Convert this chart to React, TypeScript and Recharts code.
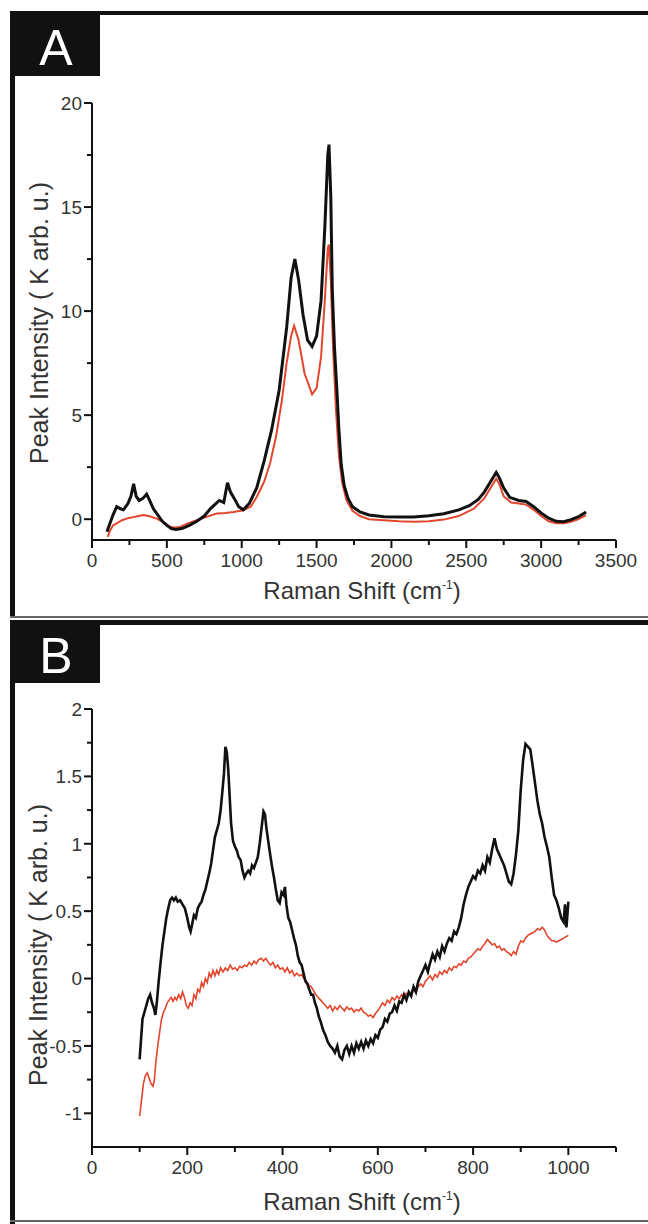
import { LineChart, Line, XAxis, YAxis } from 'recharts';

// [Raman shift (cm-1), intensity (K arb. u.)]
const blackA: [number, number][] = [
  [100, -0.6], [120, -0.2], [140, 0.2], [165, 0.6], [190, 0.5], [210, 0.45], [240, 0.75], [260, 1.1],
  [278, 1.7], [295, 1.1], [315, 0.9], [340, 1.0], [365, 1.2], [385, 0.9], [410, 0.5], [440, 0.2],
  [470, -0.1], [500, -0.3], [530, -0.45], [560, -0.5], [600, -0.45], [650, -0.3], [700, -0.1], [750, 0.15],
  [790, 0.5], [820, 0.7], [850, 0.9], [880, 0.8], [905, 1.75], [925, 1.3], [950, 1.0], [980, 0.6],
  [1010, 0.45], [1050, 0.75], [1100, 1.5], [1150, 2.8], [1200, 4.3], [1250, 6.2], [1300, 9.2], [1330, 11.6],
  [1355, 12.5], [1380, 11.5], [1410, 9.8], [1440, 8.6], [1470, 8.3], [1500, 8.8], [1530, 10.5], [1555, 14],
  [1575, 17.5], [1583, 18], [1595, 15.5], [1605, 11], [1620, 8.2], [1635, 6.3], [1650, 4.2], [1665, 2.6],
  [1685, 1.6], [1710, 1.0], [1740, 0.6], [1790, 0.35], [1850, 0.2], [1950, 0.12], [2050, 0.1], [2150, 0.11],
  [2250, 0.17], [2350, 0.26], [2450, 0.45], [2520, 0.65], [2580, 0.95], [2620, 1.3], [2670, 1.9], [2700, 2.25],
  [2720, 2.0], [2750, 1.5], [2790, 1.05], [2850, 0.9], [2900, 0.85], [2950, 0.6], [3000, 0.3], [3050, 0.05],
  [3100, -0.1], [3150, -0.12], [3200, -0.02], [3250, 0.12], [3300, 0.35],
];

const redA: [number, number][] = [
  [105, -0.85], [120, -0.55], [140, -0.3], [165, -0.2], [200, -0.05], [240, 0.05], [276, 0.1], [310, 0.15],
  [343, 0.2], [380, 0.15], [432, 0.03], [480, -0.15], [521, -0.37], [560, -0.4], [588, -0.37], [640, -0.2],
  [700, -0.05], [760, 0.1], [833, 0.27], [890, 0.3], [945, 0.35], [1012, 0.43], [1060, 0.6], [1100, 1.07],
  [1150, 1.8], [1190, 2.7], [1230, 4.0], [1268, 5.7], [1300, 7.5], [1330, 8.8], [1350, 9.3], [1380, 8.6],
  [1420, 7.0], [1470, 6.0], [1500, 6.3], [1530, 7.8], [1555, 10.5], [1575, 13.0], [1582, 13.2], [1595, 11.5],
  [1610, 8.2], [1630, 5.2], [1650, 3.0], [1670, 1.8], [1700, 0.9], [1740, 0.4], [1790, 0.15], [1850, 0.0],
  [1950, -0.05], [2050, -0.1], [2150, -0.12], [2250, -0.1], [2350, -0.02], [2450, 0.15], [2550, 0.5], [2620, 1.0],
  [2670, 1.6], [2700, 1.95], [2720, 1.7], [2750, 1.1], [2800, 0.8], [2850, 0.75], [2900, 0.7], [2950, 0.45],
  [3000, 0.15], [3050, -0.1], [3100, -0.2], [3150, -0.2], [3200, -0.12], [3250, 0.0], [3300, 0.2],
];

const blackB: [number, number][] = [
  [100, -0.6], [103, -0.45], [106, -0.3], [110, -0.25], [114, -0.2], [118, -0.15], [122, -0.12], [126, -0.18],
  [130, -0.22], [133, -0.27], [136, -0.18], [140, -0.02], [144, 0.12], [148, 0.25], [152, 0.35], [156, 0.45],
  [160, 0.52], [164, 0.58], [168, 0.6], [172, 0.58], [176, 0.6], [180, 0.57], [185, 0.58], [190, 0.55],
  [195, 0.52], [200, 0.45], [204, 0.38], [207, 0.35], [210, 0.4], [214, 0.47], [218, 0.45], [222, 0.52],
  [226, 0.55], [230, 0.57], [234, 0.62], [238, 0.66], [242, 0.72], [246, 0.78], [250, 0.85], [254, 0.95],
  [258, 1.05], [262, 1.1], [266, 1.15], [270, 1.25], [274, 1.4], [277, 1.52], [280, 1.72], [283, 1.68],
  [286, 1.55], [289, 1.35], [292, 1.15], [296, 1.02], [300, 0.98], [304, 0.95], [308, 0.9], [312, 0.88],
  [316, 0.8], [320, 0.75], [324, 0.78], [328, 0.8], [332, 0.78], [336, 0.84], [340, 0.82], [344, 0.86],
  [348, 0.9], [352, 1.0], [356, 1.12], [360, 1.24], [363, 1.22], [366, 1.12], [370, 1.02], [374, 0.92],
  [378, 0.83], [382, 0.75], [386, 0.66], [390, 0.58], [394, 0.56], [398, 0.64], [402, 0.62], [405, 0.68],
  [408, 0.55], [412, 0.45], [416, 0.42], [420, 0.36], [424, 0.3], [428, 0.25], [432, 0.17], [436, 0.12],
  [440, 0.1], [444, 0.04], [448, -0.02], [452, -0.04], [456, -0.08], [460, -0.12], [464, -0.12], [468, -0.18],
  [472, -0.22], [476, -0.28], [480, -0.32], [485, -0.38], [490, -0.42], [495, -0.47], [500, -0.5], [505, -0.52],
  [510, -0.55], [515, -0.5], [520, -0.58], [525, -0.6], [530, -0.53], [535, -0.5], [540, -0.56], [545, -0.5],
  [550, -0.55], [555, -0.48], [560, -0.52], [565, -0.47], [570, -0.52], [575, -0.46], [580, -0.5], [585, -0.45],
  [590, -0.48], [595, -0.42], [600, -0.44], [605, -0.38], [610, -0.36], [615, -0.3], [620, -0.32], [625, -0.26],
  [630, -0.25], [635, -0.2], [640, -0.24], [645, -0.17], [650, -0.18], [655, -0.12], [660, -0.16], [665, -0.1],
  [670, -0.13], [675, -0.06], [680, -0.1], [685, -0.02], [690, 0.02], [695, 0.06], [700, 0.1], [705, 0.05],
  [710, 0.12], [715, 0.18], [720, 0.14], [725, 0.2], [730, 0.16], [735, 0.24], [740, 0.2], [745, 0.26],
  [750, 0.3], [755, 0.28], [760, 0.35], [765, 0.33], [770, 0.38], [775, 0.45], [780, 0.55], [785, 0.62],
  [790, 0.68], [795, 0.72], [800, 0.76], [805, 0.74], [810, 0.8], [815, 0.78], [820, 0.84], [825, 0.8],
  [830, 0.9], [835, 0.86], [840, 0.96], [845, 1.04], [850, 0.96], [855, 0.92], [860, 0.88], [865, 0.84],
  [870, 0.78], [875, 0.72], [880, 0.7], [885, 0.78], [890, 0.92], [895, 1.1], [900, 1.4], [905, 1.62],
  [910, 1.74], [915, 1.72], [920, 1.7], [925, 1.58], [930, 1.45], [935, 1.32], [940, 1.22], [945, 1.15],
  [950, 1.05], [955, 0.98], [960, 0.9], [965, 0.75], [970, 0.62], [975, 0.58], [980, 0.52], [985, 0.45],
  [990, 0.42], [993, 0.55], [996, 0.38], [1000, 0.57],
];

const redB: [number, number][] = [
  [100, -1.02], [104, -0.9], [108, -0.78], [112, -0.72], [116, -0.7], [120, -0.74], [124, -0.78], [128, -0.8],
  [131, -0.75], [134, -0.62], [138, -0.5], [142, -0.4], [146, -0.3], [150, -0.25], [154, -0.22], [158, -0.18],
  [162, -0.16], [166, -0.14], [170, -0.17], [174, -0.14], [178, -0.16], [182, -0.12], [186, -0.15], [190, -0.1],
  [194, -0.14], [198, -0.2], [202, -0.22], [206, -0.18], [210, -0.2], [214, -0.12], [218, -0.15], [222, -0.08],
  [226, -0.1], [230, -0.03], [234, -0.06], [238, 0.0], [242, -0.03], [246, 0.04], [250, 0.01], [254, 0.06],
  [258, 0.02], [262, 0.06], [266, 0.03], [270, 0.08], [275, 0.05], [280, 0.08], [285, 0.06], [290, 0.1],
  [295, 0.07], [300, 0.08], [305, 0.06], [310, 0.09], [315, 0.08], [320, 0.1], [325, 0.09], [330, 0.12],
  [335, 0.1], [340, 0.13], [345, 0.11], [350, 0.14], [355, 0.15], [360, 0.13], [365, 0.15], [370, 0.12],
  [375, 0.1], [380, 0.12], [385, 0.08], [390, 0.1], [395, 0.07], [400, 0.08], [405, 0.05], [410, 0.08],
  [415, 0.04], [420, 0.06], [425, 0.02], [430, 0.04], [435, 0.02], [440, 0.03], [445, 0.0], [450, -0.02],
  [455, -0.05], [460, -0.06], [465, -0.09], [470, -0.12], [475, -0.14], [480, -0.16], [485, -0.18], [490, -0.2],
  [495, -0.22], [500, -0.2], [505, -0.24], [510, -0.21], [515, -0.23], [520, -0.2], [525, -0.22], [530, -0.24],
  [535, -0.21], [540, -0.23], [545, -0.22], [550, -0.25], [555, -0.23], [560, -0.24], [565, -0.22], [570, -0.25],
  [575, -0.26], [580, -0.28], [585, -0.27], [590, -0.29], [595, -0.26], [600, -0.24], [605, -0.21], [610, -0.18],
  [615, -0.2], [620, -0.16], [625, -0.18], [630, -0.14], [635, -0.16], [640, -0.13], [645, -0.15], [650, -0.12],
  [655, -0.14], [660, -0.11], [665, -0.12], [670, -0.1], [675, -0.08], [680, -0.1], [685, -0.06], [690, -0.04],
  [695, -0.06], [700, -0.02], [705, 0.0], [710, 0.02], [715, -0.01], [720, 0.03], [725, 0.01], [730, 0.05],
  [735, 0.03], [740, 0.06], [745, 0.04], [750, 0.08], [755, 0.06], [760, 0.09], [765, 0.08], [770, 0.11],
  [775, 0.1], [780, 0.13], [785, 0.12], [790, 0.15], [795, 0.16], [800, 0.18], [805, 0.2], [810, 0.22],
  [815, 0.21], [820, 0.24], [825, 0.26], [830, 0.29], [835, 0.27], [840, 0.25], [845, 0.26], [850, 0.23],
  [855, 0.24], [860, 0.21], [865, 0.22], [870, 0.2], [875, 0.19], [880, 0.17], [885, 0.2], [890, 0.18],
  [895, 0.24], [900, 0.28], [905, 0.27], [910, 0.3], [915, 0.32], [920, 0.33], [925, 0.34], [930, 0.35],
  [935, 0.37], [940, 0.36], [945, 0.38], [950, 0.36], [955, 0.32], [960, 0.3], [965, 0.28], [970, 0.28],
  [975, 0.27], [980, 0.28], [985, 0.29], [990, 0.3], [995, 0.31], [1000, 0.32],
];

const xTicksA = [0, 250, 500, 750, 1000, 1250, 1500, 1750, 2000, 2250, 2500, 2750, 3000, 3250, 3500];
const yTicksA = [0, 2.5, 5, 7.5, 10, 12.5, 15, 17.5, 20];
const xTicksB = [0, 100, 200, 300, 400, 500, 600, 700, 800, 900, 1000, 1100];
const yTicksB = [-1, -0.75, -0.5, -0.25, 0, 0.25, 0.5, 0.75, 1, 1.25, 1.5, 1.75, 2];

const FONT = '"Liberation Sans", Arial, Helvetica, sans-serif';
const INK = '#111';
const TEXT = '#333';
const RED = '#e2462c';

const pts = (arr: [number, number][]) => arr.map(([x, y]) => ({ x, y }));

const isMult = (v: number, step: number) => Math.abs(v / step - Math.round(v / step)) < 1e-6;

// ticks drawn by hand: long tick + label for majors, short tick for minors
function makeTick(side: 'left' | 'bottom', step: number) {
  return (props: any) => {
    const { x, y, payload } = props;
    const v = payload.value as number;
    const major = isMult(v, step);
    const len = major ? 8 : 5;
    if (side === 'left') {
      return (
        <g>
          <line x1={x - len} x2={x} y1={y} y2={y} stroke={INK} strokeWidth={2} />
          {major && (
            <text x={x - 10} y={y} dy="0.36em" textAnchor="end" fontSize={19} fontFamily={FONT} fill={TEXT}>
              {String(v)}
            </text>
          )}
        </g>
      );
    }
    return (
      <g>
        <line x1={x} x2={x} y1={y} y2={y + len} stroke={INK} strokeWidth={2} />
        {major && (
          <text x={x} y={y + 27} textAnchor="middle" fontSize={19} fontFamily={FONT} fill={TEXT}>
            {String(v)}
          </text>
        )}
      </g>
    );
  };
}

function Panel({
  top, height, margin, xDomain, yDomain, xTicks, yTicks, xStep, yStep, black, red, blackW, redW,
}: any) {
  return (
    <div style={{ position: 'absolute', left: 0, top }}>
      <LineChart width={648} height={height} margin={margin}>
        <XAxis
          dataKey="x"
          type="number"
          domain={xDomain}
          ticks={xTicks}
          interval={0}
          height={40}
          tickSize={0}
          tickMargin={0}
          tickLine={false}
          axisLine={{ stroke: INK, strokeWidth: 2 }}
          tick={makeTick('bottom', xStep)}
          allowDataOverflow
        />
        <YAxis
          type="number"
          domain={yDomain}
          ticks={yTicks}
          interval={0}
          width={92}
          tickSize={0}
          tickMargin={0}
          tickLine={false}
          axisLine={{ stroke: INK, strokeWidth: 2 }}
          tick={makeTick('left', yStep)}
          allowDataOverflow
        />
        <Line data={pts(red)} dataKey="y" type="linear" stroke={RED} strokeWidth={redW} dot={false} isAnimationActive={false} />
        <Line data={pts(black)} dataKey="y" type="linear" stroke={INK} strokeWidth={blackW} dot={false} isAnimationActive={false} />
      </LineChart>
    </div>
  );
}

function XTitle({ cx, y }: { cx: number; y: number }) {
  return (
    <text x={cx} y={y} textAnchor="middle" fontSize={24} fontFamily={FONT} fill={TEXT}>
      Raman Shift (cm
      <tspan dy={-10} fontSize={12}>-1</tspan>
      <tspan dy={10}>)</tspan>
    </text>
  );
}

function YTitle({ x, cy }: { x: number; cy: number }) {
  return (
    <text
      x={x}
      y={cy}
      transform={`rotate(-90 ${x} ${cy})`}
      textAnchor="middle"
      fontSize={25}
      fontFamily={FONT}
      fill={TEXT}
    >
      Peak Intensity ( K arb. u.)
    </text>
  );
}

export default function App() {
  return (
    <div style={{ position: 'absolute', left: 0, top: 0, width: 648, height: 1224, background: '#fff', overflow: 'hidden' }}>
      <Panel
        top={0}
        height={620}
        margin={{ top: 103, right: 32, left: 0, bottom: 40 }}
        xDomain={[0, 3500]}
        yDomain={[-1, 20]}
        xTicks={xTicksA}
        yTicks={yTicksA}
        xStep={500}
        yStep={5}
        black={blackA}
        red={redA}
        blackW={3}
        redW={2}
      />
      <Panel
        top={620}
        height={604}
        margin={{ top: 89, right: 32, left: 0, bottom: 37 }}
        xDomain={[0, 1100]}
        yDomain={[-1.25, 2]}
        xTicks={xTicksB}
        yTicks={yTicksB}
        xStep={200}
        yStep={0.5}
        black={blackB}
        red={redB}
        blackW={2.6}
        redW={1.6}
      />
      <svg width={648} height={1224} style={{ position: 'absolute', left: 0, top: 0, pointerEvents: 'none' }}>
        {/* panel A frame */}
        <rect x={10} y={11} width={638} height={4} fill={INK} />
        <rect x={10} y={11} width={5} height={607} fill={INK} />
        <rect x={10} y={616} width={638} height={2} fill="#666" />
        <rect x={10} y={11} width={90} height={65} fill={INK} />
        <text x={56} y={65} textAnchor="middle" fontSize={50} fontFamily={FONT} fill="#fff">A</text>
        <YTitle x={48} cy={323} />
        <XTitle cx={362} y={599} />
        {/* panel B frame */}
        <rect x={10} y={620} width={638} height={5} fill={INK} />
        <rect x={10} y={620} width={5} height={604} fill={INK} />
        <rect x={10} y={1220} width={638} height={2} fill="#666" />
        <rect x={10} y={620} width={90} height={63} fill={INK} />
        <text x={56} y={673} textAnchor="middle" fontSize={50} fontFamily={FONT} fill="#fff">B</text>
        <YTitle x={47} cy={945} />
        <XTitle cx={362} y={1210} />
      </svg>
    </div>
  );
}
